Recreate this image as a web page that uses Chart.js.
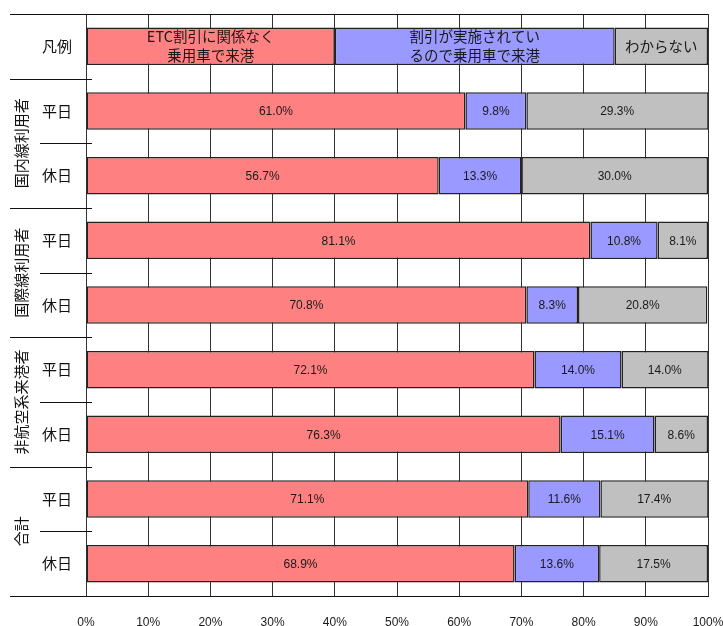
<!DOCTYPE html>
<html lang="ja">
<head>
<meta charset="utf-8">
<script src="https://cdn.jsdelivr.net/npm/chart.js@4.4.1/dist/chart.umd.min.js"></script>
<style>
  html, body { margin: 0; padding: 0; background: #fff; }
  #wrap { width: 723px; height: 626px; }
</style>
</head>
<body>
<div id="wrap"><canvas id="c" width="723" height="626"></canvas></div>
<script>
// Respondent groups and day types (left-hand row headers)
const groupLabels = ['国内線利用者', '国際線利用者', '非航空系来港者', '合計'];
const dayLabels = ['平日', '休日'];
const legendRowTitle = '凡例';

// Series names, shown inside the key row at the top
const seriesNames = [
  ['ETC割引に関係なく', '乗用車で来港'],
  ['割引が実施されてい', 'るので乗用車で来港'],
  ['わからない']
];
// Widths of the three key boxes in the key row (%)
const legendKeyShares = [40, 45, 15];

// Shares (%) per row: 国内線 平日/休日, 国際線 平日/休日, 非航空系 平日/休日, 合計 平日/休日
const regardlessOfDiscount = [61.0, 56.7, 81.1, 70.8, 72.1, 76.3, 71.1, 68.9];
const becauseOfDiscount    = [ 9.8, 13.3, 10.8,  8.3, 14.0, 15.1, 11.6, 13.6];
const notSure              = [29.3, 30.0,  8.1, 20.8, 14.0,  8.6, 17.4, 17.5];

const xTickValues = [0, 10, 20, 30, 40, 50, 60, 70, 80, 90, 100];

const seriesColors = ['#FF8080', '#9999FF', '#C0C0C0'];
const JP_FONT = '"Noto Sans CJK JP", "Noto Sans", sans-serif';
const NUM_FONT = '"Liberation Sans", Arial, sans-serif';

// Row categories: key row first, then two day types per group
const rowLabels = [legendRowTitle];
groupLabels.forEach(g => dayLabels.forEach(d => rowLabels.push(g + ' ' + d)));

const seriesValues = [regardlessOfDiscount, becauseOfDiscount, notSure];
const datasets = seriesValues.map((vals, i) => ({
  label: seriesNames[i].join(''),
  data: [legendKeyShares[i], ...vals],
  backgroundColor: seriesColors[i],
  borderColor: '#222',
  borderWidth: 1.5,
  borderSkipped: false,
  categoryPercentage: 0.58,
  barPercentage: 1
}));

// Texts inside every bar segment
const segmentLabels = {
  id: 'segmentLabels',
  afterDatasetsDraw(chart) {
    const ctx = chart.ctx;
    const area = chart.chartArea;
    ctx.save();
    ctx.fillStyle = '#1a1a1a';
    ctx.textAlign = 'center';
    ctx.textBaseline = 'middle';
    chart.data.datasets.forEach((ds, i) => {
      const meta = chart.getDatasetMeta(i);
      meta.data.forEach((bar, j) => {
        const left = Math.max(Math.min(bar.x, bar.base), area.left);
        const right = Math.min(Math.max(bar.x, bar.base), area.right);
        const cx = (left + right) / 2;
        if (j === 0) {
          const lines = seriesNames[i];
          ctx.font = '14.5px ' + JP_FONT;
          const lh = 19;
          lines.forEach((t, k) => {
            ctx.fillText(t, cx, bar.y + (k - (lines.length - 1) / 2) * lh);
          });
        } else {
          ctx.font = '12px ' + NUM_FONT;
          ctx.fillText(ds.data[j].toFixed(1) + '%', cx, bar.y + 1);
        }
      });
    });
    ctx.restore();
  }
};

// Row headers, group headers and the frame lines on the left
const rowHeaders = {
  id: 'rowHeaders',
  afterDraw(chart) {
    const ctx = chart.ctx;
    const area = chart.chartArea;
    const y = chart.scales.y;
    const n = rowLabels.length;
    const frameLeft = 10;
    const subLeft = 40;
    const stub = 6;
    const boundary = k => (y.getPixelForValue(k) + y.getPixelForValue(k + 1)) / 2;

    ctx.save();
    ctx.strokeStyle = '#111';
    ctx.lineWidth = 1;
    const hline = (x0, x1, yy) => {
      const py = Math.round(yy) + 0.5;
      ctx.beginPath(); ctx.moveTo(x0, py); ctx.lineTo(x1, py); ctx.stroke();
    };
    hline(frameLeft, area.right, area.top);
    hline(frameLeft, area.right, area.bottom);
    for (let k = 0; k < n - 1; k++) {
      const isGroupEdge = (k % 2 === 0);
      hline(isGroupEdge ? frameLeft : subLeft, area.left + stub, boundary(k));
    }

    ctx.fillStyle = '#111';
    ctx.textAlign = 'center';
    ctx.textBaseline = 'middle';
    ctx.font = '15px ' + JP_FONT;
    ctx.fillText(legendRowTitle, 57, y.getPixelForValue(0));
    for (let k = 1; k < n; k++) {
      ctx.fillText(dayLabels[(k - 1) % 2], 57, y.getPixelForValue(k));
    }
    groupLabels.forEach((g, gi) => {
      const cy = boundary(1 + gi * 2);
      ctx.save();
      ctx.translate(21, cy);
      ctx.rotate(-Math.PI / 2);
      ctx.fillText(g, 0, 0);
      ctx.restore();
    });
    ctx.restore();
  }
};

new Chart(document.getElementById('c'), {
  type: 'bar',
  data: { labels: rowLabels, datasets },
  options: {
    indexAxis: 'y',
    responsive: false,
    animation: false,
    layout: { padding: { left: 86, right: 15, top: 14, bottom: 0 } },
    plugins: { legend: { display: false }, tooltip: { enabled: false } },
    scales: {
      x: {
        stacked: true,
        min: 0,
        max: 100,
        afterBuildTicks(scale) { scale.ticks = xTickValues.map(v => ({ value: v })); },
        afterFit(scale) {
          scale.height = 30;
          scale.paddingLeft = 0;
          scale.paddingRight = 0;
          scale.paddingTop = 0;
          scale.paddingBottom = 0;
        },
        grid: { color: '#333', lineWidth: 1, drawTicks: false },
        border: { display: true, color: '#111', width: 1 },
        ticks: {
          padding: 19,
          color: '#1a1a1a',
          font: { family: NUM_FONT, size: 12 },
          maxRotation: 0,
          callback: v => v + '%'
        }
      },
      y: {
        stacked: true,
        display: false
      }
    }
  },
  plugins: [segmentLabels, rowHeaders]
});
</script>
</body>
</html>
